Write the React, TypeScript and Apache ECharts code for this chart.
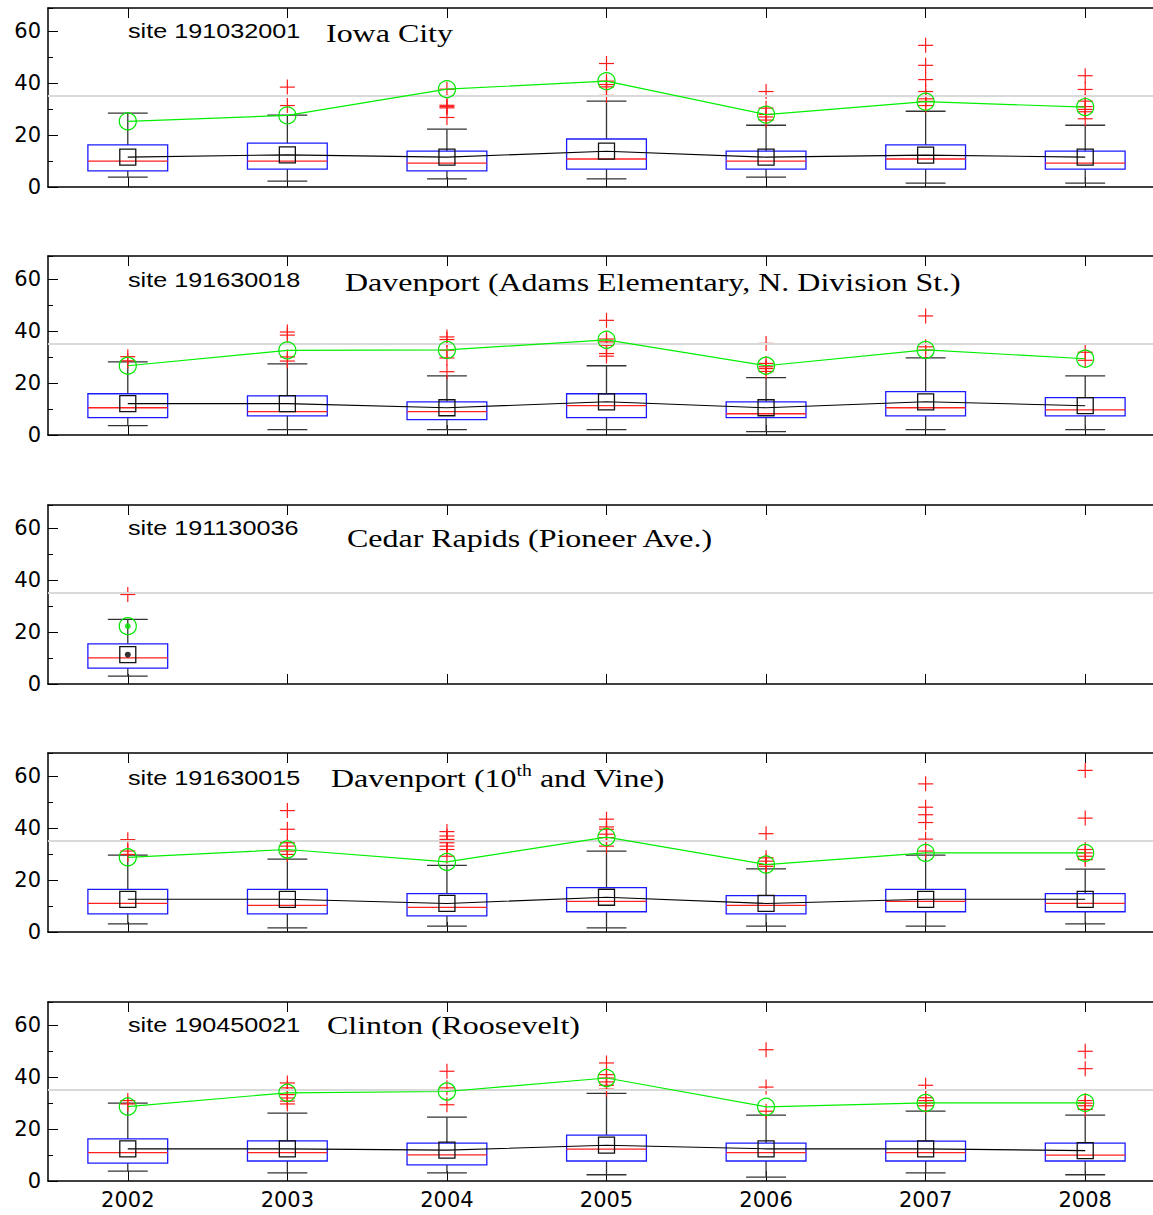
import React, { useEffect, useRef } from 'react';
import * as echarts from 'echarts';

// ---------- data ----------
const years = ['2002', '2003', '2004', '2005', '2006', '2007', '2008'];
const standardLine = 35;

// box rows: [whiskerLow, q1, median, q3, whiskerHigh]
const iowaCityBox = [
  [3.8, 6.2, 10.0, 16.2, 28.5],
  [2.3, 6.9, 10.0, 16.9, 27.7],
  [3.1, 6.2, 9.2, 13.8, 22.3],
  [3.1, 6.9, 10.8, 18.5, 33.1],
  [3.8, 6.9, 10.0, 13.8, 23.8],
  [1.5, 6.9, 10.8, 16.2, 29.2],
  [1.5, 6.9, 9.2, 13.8, 23.8],
];
const iowaCityMean = [11.5, 12.4, 11.5, 13.8, 11.5, 12.3, 11.5];
const iowaCityP98 = [25.3, 27.6, 37.7, 40.8, 27.9, 32.9, 30.8];
const iowaCityOutliers = [
  [],
  [38.5, 31.4],
  [37.7, 31.5, 31.0, 30.5, 26.8],
  [47.6, 40.8, 39.5, 38.6, 35.3],
  [36.8, 30.4, 28.0, 27.0, 25.8],
  [54.6, 46.9, 41.4, 36.8, 35.0, 34.0, 33.0, 31.4],
  [42.9, 37.6, 33.1, 31.0, 29.9, 29.0, 26.3],
];

const adamsBox = [
  [3.6, 6.7, 10.5, 15.9, 28.2],
  [2.1, 7.4, 9.0, 15.1, 27.4],
  [2.1, 5.9, 9.0, 12.8, 22.8],
  [2.1, 6.7, 11.3, 15.9, 26.7],
  [1.3, 6.7, 8.2, 12.8, 22.1],
  [2.1, 7.4, 10.5, 16.7, 29.7],
  [2.1, 7.4, 9.7, 14.4, 22.8],
];
const adamsMean = [12.1, 12.1, 10.5, 12.8, 10.5, 12.8, 11.3];
const adamsP98 = [26.7, 32.6, 32.8, 36.7, 26.7, 32.8, 29.4];
const adamsOutliers = [
  [30.2, 28.6],
  [39.7, 38.5, 30.1, 28.5],
  [37.8, 36.8, 32.7, 29.7, 24.4],
  [44.2, 37.0, 35.9, 34.6, 31.4, 30.4],
  [35.3, 27.6, 26.3, 25.6, 24.5],
  [45.9, 34.0, 32.7],
  [31.9, 28.8],
];

const cedarBox = [[3.0, 6.1, 10.1, 15.5, 24.9]];
const cedarMean = [11.3];
const cedarP98 = [22.3];
const cedarOutliers = [[34.5]];

const vineBox = [
  [3.1, 7.0, 11.0, 16.4, 29.6],
  [1.6, 7.0, 10.3, 16.4, 28.1],
  [2.3, 6.2, 9.5, 14.8, 25.7],
  [1.6, 7.8, 11.8, 17.1, 31.2],
  [2.3, 7.0, 10.3, 14.0, 24.3],
  [2.3, 7.8, 11.8, 16.4, 29.6],
  [3.1, 7.8, 11.0, 14.8, 24.2],
];
const vineMean = [12.6, 12.6, 11.0, 13.4, 11.0, 12.6, 12.6];
const vineP98 = [28.8, 31.8, 27.0, 36.6, 26.0, 30.5, 30.5];
const vineOutliers = [
  [35.6, 31.2, 29.9],
  [46.8, 39.6, 34.4, 33.1, 31.2, 29.9],
  [38.7, 37.0, 35.7, 34.4, 33.1, 31.8, 29.2],
  [43.5, 40.5, 39.6, 37.7, 36.4, 35.1, 33.1],
  [37.9, 28.6, 27.3, 26.0, 25.3],
  [57.1, 48.1, 45.2, 42.2, 35.8, 31.2],
  [62.3, 43.9, 31.8, 30.5, 29.2, 27.9],
];

const clintonBox = [
  [3.8, 6.9, 10.9, 16.2, 30.0],
  [3.1, 7.7, 10.9, 15.5, 26.2],
  [3.1, 6.2, 10.1, 14.6, 24.6],
  [2.4, 7.7, 12.3, 17.7, 33.8],
  [1.5, 7.7, 10.9, 14.6, 25.4],
  [3.1, 7.7, 10.9, 15.4, 26.9],
  [2.4, 7.7, 10.0, 14.6, 25.4],
];
const clintonMean = [12.4, 12.4, 11.9, 13.8, 12.4, 12.4, 11.7];
const clintonP98 = [28.7, 34.0, 34.5, 39.7, 28.6, 30.1, 30.1];
const clintonOutliers = [
  [31.0, 29.7],
  [37.8, 35.9, 33.3, 32.0, 30.8, 29.7],
  [42.3, 35.9, 29.4],
  [45.5, 41.0, 39.7, 38.2, 36.9, 35.4],
  [50.6, 36.2, 26.9],
  [36.9, 32.1, 31.0, 30.0, 29.0],
  [50.0, 43.3, 31.0, 30.0, 29.0, 27.6],
];

const siteIds = ['site 191032001', 'site 191630018', 'site 191130036', 'site 191630015', 'site 190450021'];
const siteNames = [
  'Iowa City',
  'Davenport (Adams Elementary, N. Division St.)',
  'Cedar Rapids (Pioneer Ave.)',
  '{a|Davenport (10}{s|th}{a| and Vine)}',
  'Clinton (Roosevelt)',
];
const boxes = [iowaCityBox, adamsBox, cedarBox, vineBox, clintonBox];
const means = [iowaCityMean, adamsMean, cedarMean, vineMean, clintonMean];
const p98s = [iowaCityP98, adamsP98, cedarP98, vineP98, clintonP98];
const outliers = [iowaCityOutliers, adamsOutliers, cedarOutliers, vineOutliers, clintonOutliers];

// ---------- layout ----------
const panelTops = [8, 256, 505, 753, 1002];
const panelHeight = 179;
const gridLeft = 48;
const gridWidth = 1117;
const siteTextY = [31, 280, 528, 778, 1025];
const titleX = [326, 345, 347, 331, 327];
const titleY = [33, 282, 538, 778, 1025];

const SANS = 'DejaVu Sans';

function renderBox(params: any, api: any) {
  const x = api.value(0);
  const low = api.coord([x, api.value(1)]);
  const q1 = api.coord([x, api.value(2)]);
  const med = api.coord([x, api.value(3)]);
  const q3 = api.coord([x, api.value(4)]);
  const high = api.coord([x, api.value(5)]);
  const band = api.size([1, 0])[0];
  const bw = band * 0.5;
  const cw = band * 0.25;
  const cx = low[0];
  const wStyle = { stroke: '#333', lineWidth: 1.3 };
  return {
    type: 'group',
    children: [
      { type: 'line', shape: { x1: cx, y1: q3[1], x2: cx, y2: high[1] }, style: wStyle },
      { type: 'line', shape: { x1: cx, y1: q1[1], x2: cx, y2: low[1] }, style: wStyle },
      { type: 'line', shape: { x1: cx - cw / 2, y1: high[1], x2: cx + cw / 2, y2: high[1] }, style: wStyle },
      { type: 'line', shape: { x1: cx - cw / 2, y1: low[1], x2: cx + cw / 2, y2: low[1] }, style: wStyle },
      {
        type: 'rect',
        shape: { x: cx - bw / 2, y: q3[1], width: bw, height: q1[1] - q3[1] },
        style: { fill: 'none', stroke: '#1a1aff', lineWidth: 1.3 },
      },
      {
        type: 'line',
        shape: { x1: cx - bw / 2, y1: med[1], x2: cx + bw / 2, y2: med[1] },
        style: { stroke: '#ff2020', lineWidth: 1.3 },
      },
    ],
  };
}

function renderPlus(params: any, api: any) {
  const p = api.coord([api.value(0), api.value(1)]);
  const h = 7.5;
  const st = { stroke: '#ff1a1a', lineWidth: 1.2 };
  return {
    type: 'group',
    children: [
      { type: 'line', shape: { x1: p[0] - h, y1: p[1], x2: p[0] + h, y2: p[1] }, style: st },
      { type: 'line', shape: { x1: p[0], y1: p[1] - h, x2: p[0], y2: p[1] + h }, style: st },
    ],
  };
}

function buildOption() {
  const grid: any[] = [];
  const xAxis: any[] = [];
  const yAxis: any[] = [];
  const series: any[] = [];
  const graphic: any[] = [];
  const axisLineStyle = { color: '#000', width: 1.5 };

  for (let i = 0; i < 5; i++) {
    grid.push({ left: gridLeft, width: gridWidth, top: panelTops[i], height: panelHeight });
    xAxis.push({
      type: 'category',
      gridIndex: i,
      data: years,
      position: 'bottom',
      boundaryGap: true,
      axisLine: { show: true, onZero: false, lineStyle: axisLineStyle },
      axisTick: { show: true, inside: true, length: 10, alignWithLabel: true, interval: 0, lineStyle: { color: '#000', width: 1 } },
      axisLabel: { show: i === 4, interval: 0, color: '#000', fontFamily: SANS, fontSize: 21, margin: 8 },
      splitLine: { show: false },
    });
    xAxis.push({
      type: 'category',
      gridIndex: i,
      data: years,
      position: 'top',
      boundaryGap: true,
      axisLine: { show: true, onZero: false, lineStyle: axisLineStyle },
      axisTick: { show: true, inside: true, length: 10, alignWithLabel: true, interval: 0, lineStyle: { color: '#000', width: 1 } },
      axisLabel: { show: false, interval: 0 },
      splitLine: { show: false },
    });
    yAxis.push({
      type: 'value',
      gridIndex: i,
      min: 0,
      max: 69,
      interval: 20,
      position: 'left',
      axisLine: { show: true, onZero: false, lineStyle: axisLineStyle },
      axisTick: { show: true, inside: true, length: 10, lineStyle: { color: '#000', width: 1 } },
      axisLabel: { show: true, showMaxLabel: false, color: '#000', fontFamily: SANS, fontSize: 21, margin: 7 },
      splitLine: { show: false },
    });
    yAxis.push({
      type: 'value',
      gridIndex: i,
      min: 0,
      max: 69,
      interval: 10,
      position: 'left',
      axisLine: { show: false },
      axisTick: { show: true, inside: true, length: 5, lineStyle: { color: '#000', width: 1 } },
      axisLabel: { show: false },
      splitLine: { show: false },
    });

    const xi = 2 * i;
    const yi = 2 * i;
    series.push({
      type: 'custom',
      xAxisIndex: xi,
      yAxisIndex: yi,
      data: boxes[i].map((b, j) => [j, ...b]),
      encode: { x: 0, y: [1, 2, 3, 4, 5] },
      renderItem: renderBox,
      z: 2,
      silent: true,
      markLine: {
        silent: true,
        symbol: ['none', 'none'],
        label: { show: false },
        lineStyle: { color: '#d9d9d9', width: 2, type: 'solid' },
        data: [{ yAxis: standardLine }],
      },
    });
    series.push({
      type: 'custom',
      xAxisIndex: xi,
      yAxisIndex: yi,
      data: outliers[i].flatMap((arr, j) => arr.map((v) => [j, v])),
      encode: { x: 0, y: 1 },
      renderItem: renderPlus,
      z: 3,
      silent: true,
    });
    series.push({
      type: 'line',
      xAxisIndex: xi,
      yAxisIndex: yi,
      data: means[i],
      symbol: 'rect',
      symbolSize: 16,
      showAllSymbol: true,
      lineStyle: { color: '#000', width: 1.1 },
      itemStyle: { color: 'rgba(0,0,0,0)', borderColor: '#111', borderWidth: 1.3 },
      z: 4,
      silent: true,
    });
    series.push({
      type: 'line',
      xAxisIndex: xi,
      yAxisIndex: yi,
      data: p98s[i],
      symbol: 'circle',
      symbolSize: 17,
      showAllSymbol: true,
      lineStyle: { color: '#00f000', width: 1.2 },
      itemStyle: { color: 'rgba(0,0,0,0)', borderColor: '#00e600', borderWidth: 1.2 },
      z: 5,
      silent: true,
    });
    if (means[i].length === 1) {
      series.push({
        type: 'scatter',
        xAxisIndex: xi,
        yAxisIndex: yi,
        data: means[i],
        symbol: 'circle',
        symbolSize: 6,
        itemStyle: { color: '#000' },
        z: 6,
        silent: true,
      });
      series.push({
        type: 'scatter',
        xAxisIndex: xi,
        yAxisIndex: yi,
        data: p98s[i],
        symbol: 'circle',
        symbolSize: 6,
        itemStyle: { color: '#00e600' },
        z: 6,
        silent: true,
      });
    }

    graphic.push({
      type: 'text',
      x: 128,
      y: siteTextY[i],
      scaleX: 1.2,
      style: {
        text: siteIds[i],
        fontFamily: 'Liberation Sans',
        fontSize: 21,
        fill: '#000',
        align: 'left',
        verticalAlign: 'middle',
      },
    });
    graphic.push({
      type: 'text',
      x: titleX[i],
      y: titleY[i],
      scaleX: 1.23,
      style: {
        text: siteNames[i],
        fontFamily: 'Liberation Serif',
        fontSize: 26,
        fill: '#000',
        align: 'left',
        verticalAlign: 'middle',
        rich: {
          a: { fontFamily: 'Liberation Serif', fontSize: 26, lineHeight: 30, fill: '#000' },
          s: { fontFamily: 'Liberation Serif', fontSize: 16, lineHeight: 18, verticalAlign: 'top', fill: '#000' },
        },
      },
    });
  }

  return {
    animation: false,
    backgroundColor: '#fff',
    grid,
    xAxis,
    yAxis,
    series,
    graphic,
  };
}

export default function App() {
  const ref = useRef<HTMLDivElement>(null);
  useEffect(() => {
    if (!ref.current) return;
    const chart = echarts.init(ref.current, undefined, { renderer: 'svg' });
    chart.setOption(buildOption() as any);
    return () => chart.dispose();
  }, []);
  return (
    <div
      style={{ position: 'absolute', left: 0, top: 0, width: 1153, height: 1215, overflow: 'hidden', background: '#fff' }}
    >
      <div ref={ref} style={{ width: 1180, height: 1215 }} />
    </div>
  );
}
